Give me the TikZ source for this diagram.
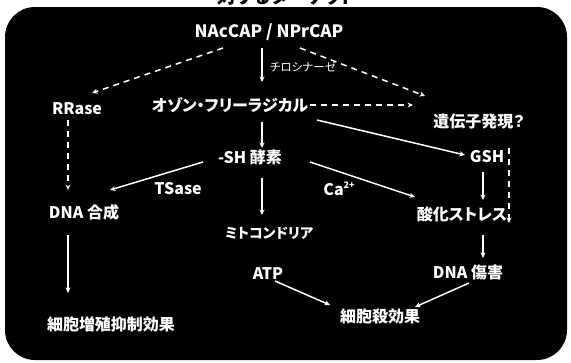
\documentclass[tikz,border=0pt]{standalone}
\usepackage{fontspec}
\setmainfont{Noto Sans CJK JP}[RawFeature=+palt]
\usetikzlibrary{arrows.meta}
\tikzset{
  lab/.style={text=white, font=\bfseries\fontsize{16}{16}\selectfont, inner sep=0pt},
  smalllab/.style={text=white, font=\fontsize{11.5}{11.5}\selectfont, inner sep=0pt},
  arr/.style={draw=white, line width=1.5pt, -{Stealth[length=5.5pt,width=5pt]}},
  darr/.style={arr, dash pattern=on 6pt off 5pt},
}
\begin{document}
\begin{tikzpicture}[x=1pt,y=-1pt]
\useasboundingbox (0,0) rectangle (571,362);
\begin{scope}
\clip (0,0) rectangle (571,362);
\node[font=\bfseries\fontsize{19}{19}\selectfont, inner sep=0pt, anchor=base] (head) at (287,3) {対するターゲット};
\end{scope}
\fill[black, rounded corners=30pt] (5,7) rectangle (567,360);

\node[lab, font=\bfseries\fontsize{17}{17}\selectfont] (top) at (269,32) {NAcCAP / NPrCAP};
\node[lab] (rrase) at (77,109) {RRase};
\node[lab] (rad) at (230,105) {オゾン・フリーラジカル};
\node[lab] (gene) at (479,121) {遺伝子発現？};
\node[lab] (sh) at (250,157) {-SH 酵素};
\node[lab] (gsh) at (487,157) {GSH};
\node[lab] (dna) at (84,212) {DNA 合成};
\node[lab, font=\bfseries\fontsize{14}{14}\selectfont] (mito) at (269,233) {ミトコンドリア};
\node[lab] (ox) at (462,214) {酸化ストレス};
\node[lab] (atp) at (268,274) {ATP};
\node[lab] (dmg) at (468,272) {DNA 傷害};
\node[lab] (prolif) at (111,324) {細胞増殖抑制効果};
\node[lab] (kill) at (380,316) {細胞殺効果};
\node[smalllab] (tyr) at (303,67) {チロシナーゼ};
\node[lab] (tsase) at (178,189) {TSase};
\node[lab] (ca) at (339,189) {Ca\raisebox{0.45em}{\fontsize{9}{9}\selectfont 2+}};

% connectors
\draw[darr] ([shift={(-46,16)}]top.center) -- ([shift={(15,-16)}]rrase.center);
\draw[darr] ([shift={(31,16)}]top.center) -- ([shift={(-54,-25)}]gene.center);
\draw[arr] ([shift={(-7,16)}]top.center) -- ([shift={(32,-23)}]rad.center);
\draw[darr] ([shift={(2,0)}]rad.east) -- ([shift={(-66,-16)}]gene.center);
\draw[arr] ([shift={(87,15)}]rad.center) -- ([shift={(-22,-2)}]gsh.center);
\draw[arr] ([shift={(32,17)}]rad.center) -- ([shift={(12,-9)}]sh.center);
\draw[darr] ([shift={(-9,11)}]rrase.center) -- ([shift={(-16,-22)}]dna.center);
\draw[arr] ([shift={(-47,5)}]sh.center) -- ([shift={(26,-22)}]dna.center);
\draw[arr] ([shift={(60,5)}]sh.center) -- ([shift={(-47,-17)}]ox.center);
\draw[arr] ([shift={(12,21)}]sh.center) -- ([shift={(-7,-18)}]mito.center);
\draw[arr] ([shift={(-4,15)}]gsh.center) -- ([shift={(21,-14)}]ox.center);
\draw[darr] ([shift={(22,-9)}]gsh.center) -- ([shift={(47,9)}]ox.center);
\draw[arr] ([shift={(-16,23)}]dna.center) -- ([shift={(-43,-31)}]prolif.center);
\draw[arr] ([shift={(21,21)}]ox.center) -- ([shift={(15,-14)}]dmg.center);
\draw[arr] ([shift={(7,7)}]atp.center) -- ([shift={(-50,-11)}]kill.center);
\draw[arr] ([shift={(1,11)}]dmg.center) -- ([shift={(35,-9)}]kill.center);
\end{tikzpicture}
\end{document}
